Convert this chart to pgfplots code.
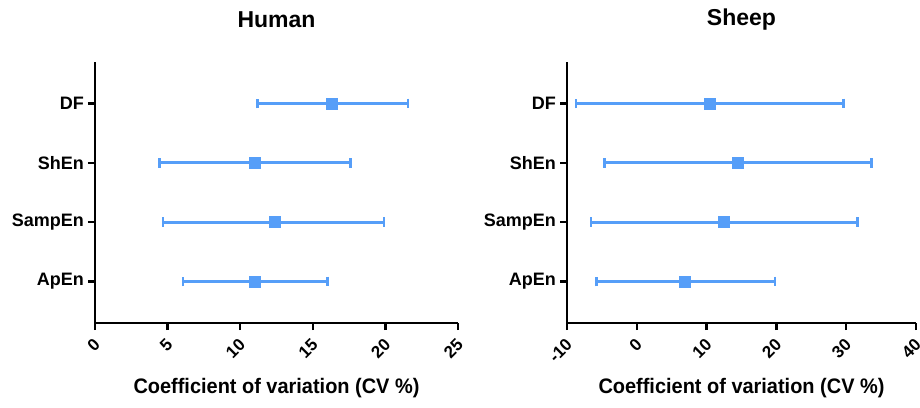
\documentclass[border=0pt]{standalone}
\usepackage{fontspec}
\setmainfont{Liberation Sans}
\usepackage{graphicx}
\usepackage{pgfplots}
\pgfplotsset{compat=1.18}
\definecolor{cvblue}{RGB}{86,158,248}

% values: mean, minus and plus error
\pgfplotstableread{
y x em ep
4 16.3 5.10 5.25
3 11.0 6.55 6.60
2 12.4 7.70 7.50
1 11.0 4.95 5.00
}\humandata
\pgfplotstableread{
y x em ep
4 10.5 19.20 19.10
3 14.55 19.20 19.10
2 12.5 19.10 19.10
1 6.9 12.65 12.90
}\sheepdata

\pgfplotsset{
  cvpanel/.style={
    scale only axis,
    height=130.5pt,
    axis lines*=left,
    axis line style={line width=1.4pt},
    ymin=0.3, ymax=4.7,
    ytick={1,2,3,4},
    yticklabels={ApEn,SampEn,ShEn,DF},
    tick align=outside,
    major tick length=3.5pt,
    every tick/.style={black, line width=1.2pt},
    yticklabel style={font=\bfseries\fontsize{9}{10}\selectfont, xshift=1.5pt},
    xticklabel style={font=\bfseries\fontsize{8.5}{9}\selectfont,
      xshift=3.5pt, yshift=-3.5pt, rotate=45, anchor=east},
    /pgf/number format/assume math mode=true,
    title style={font=\bfseries\fontsize{11.5}{13}\selectfont, at={(axis description cs:0.5,1)}, anchor=center, yshift=15pt},
    xlabel style={font=\bfseries\fontsize{10.5}{12}\selectfont, at={(axis description cs:0.5,0)}, anchor=center, yshift=-32.5pt},
    clip=false,
  },
  cvbars/.style={
    only marks, mark=square*, mark size=2.75pt, color=cvblue,
    mark options={fill=cvblue, draw=cvblue},
    error bars/.cd, x dir=both, x explicit,
    error bar style={line width=1.4pt, cvblue},
    error mark options={rotate=90, mark size=2.4pt, line width=1.2pt, cvblue},
  },
}

\begin{document}
\begin{tikzpicture}
\useasboundingbox (-47.5pt,-42pt) rectangle (412.5pt,161.5pt);
\begin{axis}[cvpanel,
  at={(0,0)}, width=181.5pt,
  xmin=0, xmax=25, xtick={0,5,...,25},
  title={Human},
  xlabel={\scalebox{0.95}[1]{Coefficient of variation (CV \%)}},
]
\addplot[cvbars] table[x=x, y=y, x error minus=em, x error plus=ep] {\humandata};
\end{axis}
\begin{axis}[cvpanel,
  at={(236pt,0)}, width=174.5pt,
  xmin=-10, xmax=40, xtick={-10,0,...,40},
  title={Sheep},
  xlabel={\scalebox{0.95}[1]{Coefficient of variation (CV \%)}},
]
\addplot[cvbars] table[x=x, y=y, x error minus=em, x error plus=ep] {\sheepdata};
\end{axis}
\end{tikzpicture}
\end{document}
